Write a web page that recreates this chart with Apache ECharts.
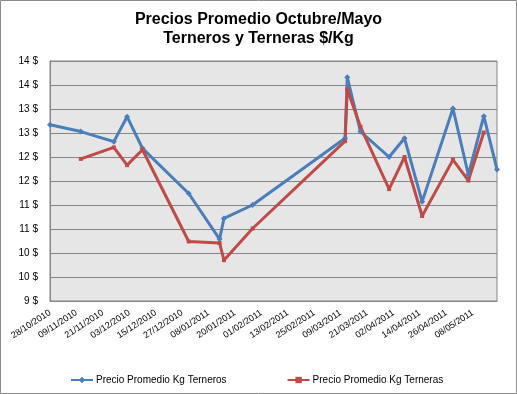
<!DOCTYPE html>
<html>
<head>
<meta charset="utf-8">
<script src="https://cdn.jsdelivr.net/npm/echarts@6/dist/echarts.min.js"></script>
<style>
html,body{margin:0;padding:0;background:#fff;}
#c{width:517px;height:394px;}
</style>
</head>
<body>
<div id="c"></div>
<script>
// Data
var startDate = '28/10/2010';
var endDate = '19/05/2011';
var dates = ['28/10/2010','11/11/2010','26/11/2010','02/12/2010','09/12/2010','30/12/2010','13/01/2011','15/01/2011','28/01/2011','11/03/2011','12/03/2011','18/03/2011','31/03/2011','07/04/2011','15/04/2011','29/04/2011','06/05/2011','13/05/2011','19/05/2011'];
var terneros = [12.67,12.53,12.32,12.84,12.18,11.24,10.29,10.72,11.0,12.39,13.66,12.53,12.0,12.39,11.07,13.01,11.63,12.85,11.74];
var terneras = [null,11.96,12.2,11.83,12.15,10.24,10.21,9.85,10.51,12.33,13.41,12.63,11.33,12.0,10.77,11.94,11.51,12.51,null];
var seriesNames = ['Precio Promedio Kg Terneros','Precio Promedio Kg Terneras'];
var titleText = 'Precios Promedio Octubre/Mayo\nTerneros y Terneras $/Kg';
var yMin = 9, yMax = 14, yStep = 0.5;
var xStepDays = 12;

function parseD(s){var p=s.split('/');return Date.UTC(+p[2],+p[1]-1,+p[0]);}
var DAY=86400000;
var t0=parseD(startDate);
function dayOf(s){return Math.round((parseD(s)-t0)/DAY);}
function pad(n){return (n<10?'0':'')+n;}
function fmtDay(d){var dt=new Date(t0+d*DAY);return pad(dt.getUTCDate())+'/'+pad(dt.getUTCMonth()+1)+'/'+dt.getUTCFullYear();}
function pairs(vals){var out=[];for(var i=0;i<dates.length;i++){if(vals[i]!=null)out.push([dayOf(dates[i]),vals[i]]);}return out;}

var FONT='Arial, "Liberation Sans", sans-serif';
var chart=echarts.init(document.getElementById('c'),null,{renderer:'canvas'});
chart.setOption({
  animation:false,
  backgroundColor:'#fff',
  graphic:[{type:'rect',shape:{x:0.5,y:0.5,width:516,height:393},style:{fill:'none',stroke:'#8c8c8c',lineWidth:1},silent:true}],
  title:{text:titleText,left:'center',top:5,textStyle:{fontFamily:FONT,fontSize:16,fontWeight:'bold',color:'#000',lineHeight:19}},
  grid:{left:50,top:61,width:447,height:240,show:true,backgroundColor:'#e6e6e6',borderColor:'#868686',borderWidth:1},
  legend:{left:65,top:370,itemWidth:22,itemHeight:8,itemGap:60,textStyle:{fontFamily:FONT,fontSize:10,color:'#000',padding:[0,0,0,-2]},data:seriesNames},
  xAxis:{type:'value',min:0,max:dayOf(endDate),interval:xStepDays,
    axisLine:{show:true,lineStyle:{color:'#868686'}},axisTick:{show:false},splitLine:{show:false},
    axisLabel:{rotate:33,fontFamily:FONT,fontSize:9,color:'#000',margin:11,showMaxLabel:false,
      formatter:function(v){return (v%xStepDays===0)?fmtDay(v):'';}}},
  yAxis:{type:'value',min:yMin,max:yMax,interval:yStep,
    axisLine:{show:true,lineStyle:{color:'#868686'}},axisTick:{show:false},
    splitLine:{show:true,lineStyle:{color:'#868686',width:1}},
    axisLabel:{fontFamily:FONT,fontSize:10,color:'#000',margin:12,formatter:function(v){return Math.round(v)+' $';}}},
  series:[
    {name:seriesNames[0],type:'line',data:pairs(terneros),symbol:'diamond',symbolSize:6,
      lineStyle:{color:'#4A7EBB',width:3},itemStyle:{color:'#4A7EBB'}},
    {name:seriesNames[1],type:'line',data:pairs(terneras),symbol:'rect',symbolSize:4,
      lineStyle:{color:'#BE4B48',width:3},itemStyle:{color:'#BE4B48'}}
  ]
});
</script>
</body>
</html>
